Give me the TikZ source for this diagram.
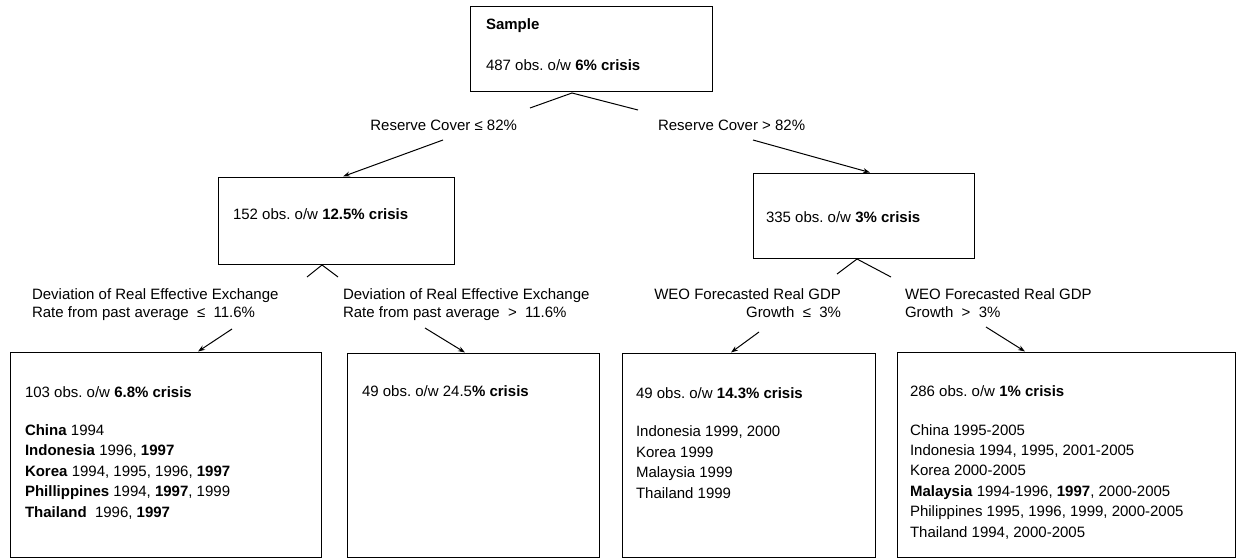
\documentclass[tikz,border=0pt]{standalone}
\usepackage{fontspec}
\setmainfont{Liberation Sans}
\usetikzlibrary{arrows.meta}
\begin{document}
\frenchspacing
\begin{tikzpicture}[x=1pt,y=-1pt,
  box/.style={draw,line width=1pt,inner sep=0pt,outer sep=0pt},
  txt/.style={inner sep=0pt,outer sep=0pt,anchor=base west,align=left,font=\fontsize{15}{20.4}\selectfont},
  lbl/.style={inner sep=0pt,outer sep=0pt,font=\fontsize{15}{18}\selectfont},
  conn/.style={line width=1pt},
  arr/.style={line width=1pt,-{Stealth[length=7pt,width=5pt]}}]
\useasboundingbox (0,0) rectangle (1241,559);
\fill[white] (0,0) rectangle (1241,559);

% boxes
\node[box,minimum width=242pt,minimum height=85pt] (top) at (591,49.5) {};
\node[box,minimum width=236pt,minimum height=87pt] (ml) at (336,220.5) {};
\node[box,minimum width=221pt,minimum height=85pt] (mr) at (863.5,215.5) {};
\node[box,minimum width=311pt,minimum height=205pt] (b1) at (165.5,454.5) {};
\node[box,minimum width=252pt,minimum height=204pt] (b2) at (473,455) {};
\node[box,minimum width=253pt,minimum height=204pt] (b3) at (748.5,455) {};
\node[box,minimum width=338pt,minimum height=205pt] (b4) at (1066,454.5) {};

% box texts (multi-line nodes: base = last line's baseline)
\node[txt] (topt1) at (486,30) {\textbf{Sample}};
\node[txt] (topt2) at (486,71) {487 obs. o/w \textbf{6\% crisis}};
\node[txt] (mlt) at (233,219) {152 obs. o/w \textbf{12.5\% crisis}};
\node[txt] (mrt) at (766,222) {335 obs. o/w \textbf{3\% crisis}};
\node[txt] (b1t) at (25,517) {103 obs. o/w \textbf{6.8\% crisis}\\[18pt]
  \textbf{China} 1994\\
  \textbf{Indonesia} 1996, \textbf{1997}\\
  \textbf{Korea} 1994, 1995, 1996, \textbf{1997}\\
  \textbf{Phillippines} 1994, \textbf{1997}, 1999\\
  \textbf{Thailand}\ \ 1996, \textbf{1997}};
\node[txt] (b2t) at (362,396) {49 obs. o/w 24.5\textbf{\% crisis}};
\node[txt] (b3t) at (636,498) {49 obs. o/w \textbf{14.3\% crisis}\\[18pt]
  Indonesia 1999, 2000\\
  Korea 1999\\
  Malaysia 1999\\
  Thailand 1999};
\node[txt] (b4t) at (910,537) {286 obs. o/w \textbf{1\% crisis}\\[18pt]
  China 1995-2005\\
  Indonesia 1994, 1995, 2001-2005\\
  Korea 2000-2005\\
  \textbf{Malaysia} 1994-1996, \textbf{1997}, 2000-2005\\
  Philippines 1995, 1996, 1999, 2000-2005\\
  Thailand 1994, 2000-2005};

% labels
\node[lbl,anchor=base east] (rl) at (517,131) {Reserve Cover ≤ 82\%};
\node[lbl,anchor=base west] (rr) at (658,131) {Reserve Cover > 82\%};
\node[lbl,anchor=base west,align=left] (l1) at (32,317) {Deviation of Real Effective Exchange\\Rate from past average\ \ ≤\ \ 11.6\%};
\node[lbl,anchor=base west,align=left] (l2) at (343,317) {Deviation of Real Effective Exchange\\Rate from past average\ \ >\ \ 11.6\%};
\node[lbl,anchor=base east,align=right] (l3) at (841,317) {WEO Forecasted Real GDP\\Growth\ \ ≤\ \ 3\%};
\node[lbl,anchor=base west,align=left] (l4) at (905,317) {WEO Forecasted Real GDP\\Growth\ \ >\ \ 3\%};

% connector points
\coordinate (t0) at (572,93);
\coordinate (t1) at (530,108);
\coordinate (t2) at (638,110);
\coordinate (a1) at (443,140);
\coordinate (a2) at (753,140);
\coordinate (e1) at (343,176.5);
\coordinate (e2) at (870,172.5);
\coordinate (m0) at (322,265);
\coordinate (m1) at (307,277);
\coordinate (m2) at (338,277);
\coordinate (n0) at (857,259);
\coordinate (n1) at (837,274);
\coordinate (n2) at (891,277);
\coordinate (s1) at (232,329);
\coordinate (f1) at (198,351.5);
\coordinate (s2) at (425,328);
\coordinate (f2) at (465,352.5);
\coordinate (s3) at (759,332);
\coordinate (f3) at (731,352.5);
\coordinate (s4) at (986,327);
\coordinate (f4) at (1025,351.5);

\draw[conn] (t1) -- (t0) -- (t2);
\draw[arr] (a1) -- (e1);
\draw[arr] (a2) -- (e2);
\draw[conn] (m1) -- (m0) -- (m2);
\draw[conn] (n1) -- (n0) -- (n2);
\draw[arr] (s1) -- (f1);
\draw[arr] (s2) -- (f2);
\draw[arr] (s3) -- (f3);
\draw[arr] (s4) -- (f4);
\end{tikzpicture}
\end{document}
